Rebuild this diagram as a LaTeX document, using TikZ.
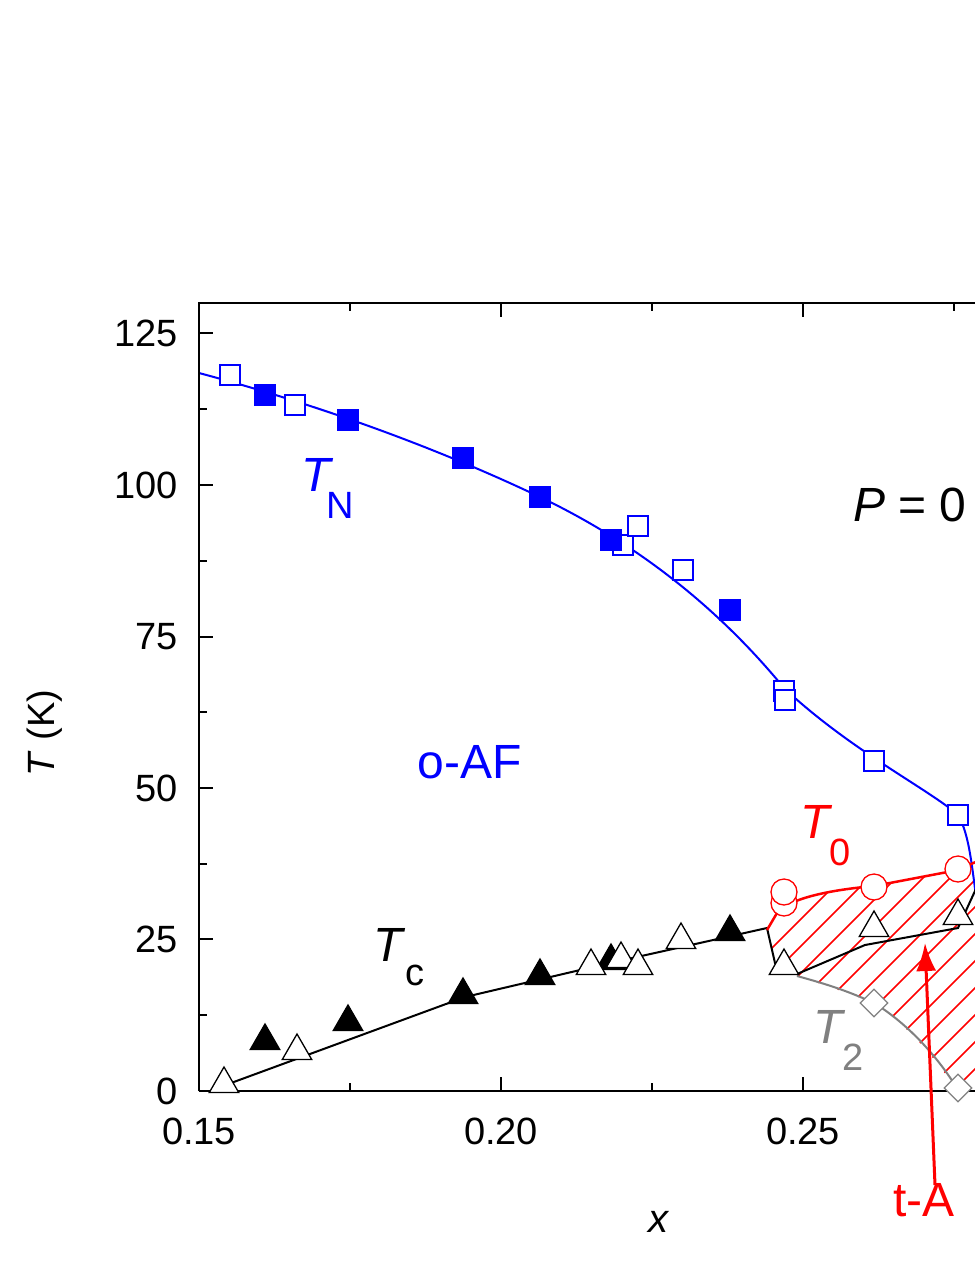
\documentclass[tikz,border=0pt]{standalone}
\usepackage{fontspec}
\setmainfont{Liberation Sans}
\usetikzlibrary{shapes.geometric,arrows.meta}
\tikzset{
 x=1pt,y=-1pt,
 mk/.style={inner sep=0pt,line width=1.3pt,fill=white},
 osq/.style={mk,draw=blue,rectangle,minimum size=20pt},
 fsq/.style={mk,draw=blue,fill=blue,rectangle,minimum size=20pt},
 otri/.style={mk,draw=black,regular polygon,regular polygon sides=3,minimum size=34pt},
 ftri/.style={mk,draw=black,fill=black,regular polygon,regular polygon sides=3,minimum size=34pt},
 ocirc/.style={mk,draw=red,circle,minimum size=26pt},
 odia/.style={mk,draw=gray,diamond,minimum size=28pt},
 lbl/.style={font=\fontsize{38}{40}\selectfont,inner sep=0pt},
 ax/.style={line width=2pt},
}
\begin{document}
\begin{tikzpicture}
\useasboundingbox (0,0) rectangle (975,1262);
\clip (0,0) rectangle (975,1262);
\fill[white] (0,0) rectangle (975,1262);
% hatched region
\begin{scope}
\clip (767,930)--(777,913) .. controls (790,898) and (830,890) .. (874,886) -- (958,870) -- (975,860) -- (975,1095) -- (958,1092) .. controls (930,1050) and (900,1020) .. (874,1003) .. controls (840,990) and (815,982) .. (797,976) -- (775,963) -- cycle;
\foreach \i in {0,...,24} \draw[red,line width=1.5pt] (620+\i*27,1100)--++(320,-320);
\end{scope}
% curves
\draw[blue,line width=2pt] (199,373) .. controls (300,400) and (420,440) .. (540,497) .. controls (640,545) and (720,610) .. (784,688) .. controls (850,750) and (930,790) .. (958,815) .. controls (970,835) and (972,870) .. (978,910);
\draw[black,line width=2pt] (212,1090) -- (465,997) -- (610,963) -- (767,928) -- (775,963) -- (797,974) -- (865,945) -- (958,928) -- (980,880);
\draw[red,line width=2.5pt] (767,930)--(777,913) .. controls (790,898) and (830,890) .. (874,886) -- (958,870) -- (980,860);
\draw[gray,line width=2pt] (797,976) .. controls (830,985) and (850,992) .. (874,1003) .. controls (910,1025) and (940,1060) .. (958,1090);
% frame
\draw[ax] (199,1091) -- (199,303) -- (990,303);
\draw[ax] (199,1091) -- (990,1091);
\foreach \t/\y in {0/1091,25/939,50/788,75/637,100/485,125/333}{
 \draw[ax] (199,\y)--(213,\y);
 \node[lbl,anchor=east] (yt\t) at (178,\y) {\t};}
\foreach \y in {1015,864,712,561,409}{\draw[ax] (199,\y)--(207,\y);}
\foreach \v/\x in {0.15/199,0.20/501,0.25/803}{
 \draw[ax] (\x,1091)--(\x,1077); \draw[ax] (\x,303)--(\x,317);
 \node[lbl,anchor=north] (xt\x) at (\x,1118) {\v};}
\foreach \x in {350,652,954}{\draw[ax] (\x,1091)--(\x,1083); \draw[ax] (\x,303)--(\x,311);}
\node[lbl,font=\fontsize{40}{42}\selectfont\itshape] (xl) at (658,1222) {x};
\node[lbl,rotate=90] (yl) at (45,733) {\textit{T} (K)};
% markers
\foreach \x/\y [count=\n] in {230/375,295/405,623/545,638/526,683/570,784/691,785/700,874/761,958/815}
 \node[osq] (os\n) at (\x,\y) {};
\foreach \x/\y [count=\n] in {265/395,348/420,463/458,540/497,611/540,730/610}
 \node[fsq] (fs\n) at (\x,\y) {};
\foreach \x/\y [count=\n] in {265/1041,348/1022,463/995,540/976,611/961,730/932}
 \node[ftri] (ft\n) at (\x,\y) {};
\foreach \x/\y [count=\n] in {224/1084,297/1051,591/966,621/959,638/966,681/940,784/966,874/928,958/916}
 \node[otri] (ot\n) at (\x,\y) {};
\foreach \x/\y [count=\n] in {784/903,784/892,874/887,958/869}
 \node[ocirc] (oc\n) at (\x,\y) {};
\foreach \x/\y [count=\n] in {874/1003,958/1088}
 \node[odia] (od\n) at (\x,\y) {};
% labels
\node[lbl,blue,font=\fontsize{48}{50}\selectfont] (tn) at (318,475) {\textit{T}};
\node[lbl,blue] (tns) at (340,505) {N};
\node[lbl,blue,font=\fontsize{48}{50}\selectfont] (oaf) at (470,762) {o-AF};
\node[lbl,red,font=\fontsize{48}{50}\selectfont] (t0) at (817,822) {\textit{T}};
\node[lbl,red] (t0s) at (840,852) {0};
\node[lbl,font=\fontsize{48}{50}\selectfont] (tc) at (390,945) {\textit{T}};
\node[lbl] (tcs) at (415,975) {c};
\node[lbl,gray,font=\fontsize{48}{50}\selectfont] (t2) at (830,1027) {\textit{T}};
\node[lbl,gray] (t2s) at (853,1057) {2};
\node[lbl,font=\fontsize{48}{50}\selectfont,anchor=west] (p) at (853,505) {\textit{P} = 0};
\node[lbl,red,font=\fontsize{48}{50}\selectfont,anchor=west] (ta) at (893,1200) {t-A};
\coordinate (tip) at (925,943);
\draw[red,line width=3pt,-{Latex[length=28pt,width=20pt]}] (935,1185) -- (tip);
\end{tikzpicture}
\end{document}
